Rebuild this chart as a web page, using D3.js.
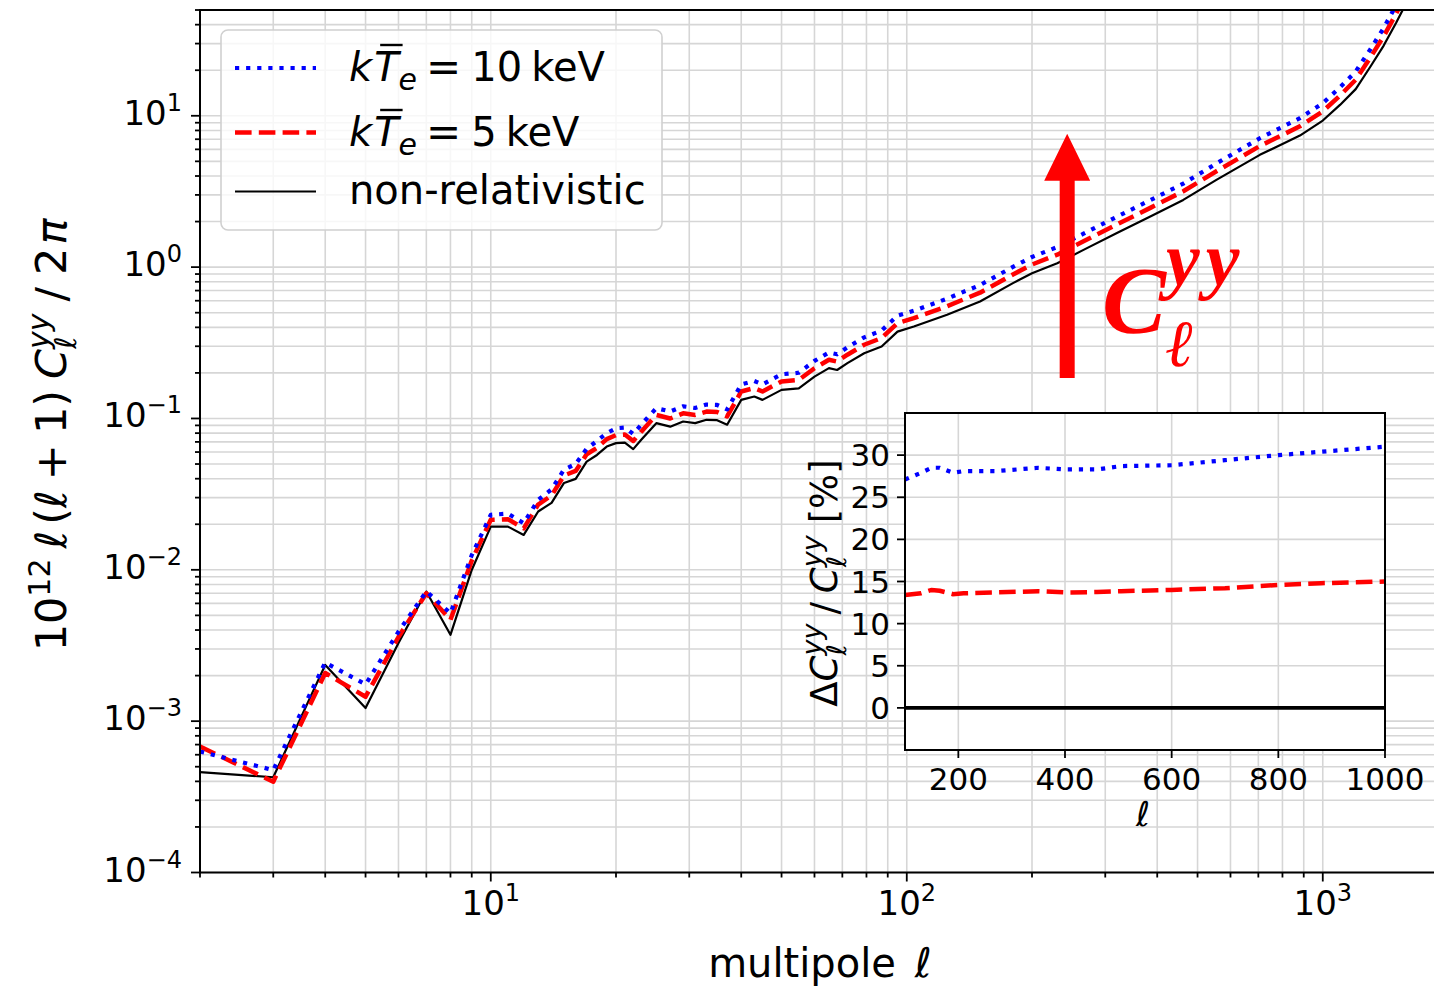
<!DOCTYPE html>
<html><head><meta charset="utf-8">
<script src="https://cdn.jsdelivr.net/npm/d3@7"></script>
<style>body{margin:0;background:#fff} svg{display:block}</style>
</head><body><svg id="c" width="1434" height="990"></svg>
<script>
// ---------------- data ----------------
const ells = [2,3,4,5,6,7,8,9,10,11,12,13,14,15,16,17,18,19,20,21,22,23,25,27,29,31,33,35,37,40,43,45,50,55,60,65,68,72,79,87,95,104,125,150,180,200,230,266,320,385,462,555,706,800,881,1000,1100,1200,1300,1400,1500,1600,1800,2000];
const nonRel = [4.6e-4,4.26e-4,2.35e-3,1.22e-3,3.29e-3,7.18e-3,3.72e-3,9.98e-3,0.0193,0.0193,0.0170,0.0243,0.0277,0.0375,0.0399,0.0519,0.0574,0.0652,0.0687,0.0693,0.0627,0.0723,0.0931,0.0883,0.0955,0.0931,0.098,0.0975,0.0910,0.1327,0.1397,0.1327,0.1545,0.158,0.189,0.215,0.209,0.232,0.270,0.299,0.375,0.405,0.484,0.593,0.784,0.912,1.06,1.30,1.68,2.16,2.78,3.77,5.52,6.5,7.4,9.3,11.8,15.0,21.0,29,41,58,110,200];
const kT10 = [6.3e-4,4.75e-4,2.44e-3,1.75e-3,3.9e-3,7.2e-3,5.16e-3,0.0125,0.0231,0.0235,0.0203,0.029,0.034,0.046,0.050,0.063,0.071,0.080,0.0862,0.0870,0.0790,0.0910,0.1170,0.1112,0.1203,0.1173,0.1235,0.1228,0.1147,0.1680,0.1770,0.1680,0.1960,0.2005,0.2400,0.2730,0.2655,0.2950,0.3435,0.3810,0.4780,0.5150,0.6190,0.7610,1.003,1.167,1.357,1.664,2.152,2.771,3.564,4.840,7.110,8.45,9.65,12.1,15.4,19.6,27.4,37.9,53.6,75.9,144,262];
const kT5 = [6.8e-4,3.98e-4,2.08e-3,1.45e-3,3.6e-3,7.0e-3,4.67e-3,0.0115,0.0214,0.0216,0.0188,0.027,0.031,0.042,0.045,0.058,0.064,0.073,0.0776,0.0783,0.0710,0.0818,0.1055,0.1000,0.1082,0.1055,0.1110,0.1104,0.1031,0.1508,0.1588,0.1508,0.1756,0.1796,0.2148,0.2443,0.2376,0.2638,0.3070,0.3402,0.4268,0.4600,0.5520,0.6780,0.8940,1.040,1.209,1.482,1.915,2.463,3.170,4.300,6.310,7.47,8.52,10.7,13.6,17.3,24.2,33.4,47.2,66.8,127,230];

const insetEll = [100,130,150,165,190,210,270,350,400,460,505,600,700,800,880,1000];
const insetKT10 = [27.1,27.9,28.5,28.5,27.9,28.1,28.1,28.5,28.3,28.3,28.7,28.8,29.4,30.0,30.4,31.0];
const insetKT5 = [13.4,13.6,14.0,13.9,13.5,13.6,13.7,13.85,13.7,13.75,13.85,14.0,14.2,14.6,14.8,15.0];
const insetNonRel = [0,0,0,0,0,0,0,0,0,0,0,0,0,0,0,0];

const xDomain = [2, 2000];
const yDomain = [1e-4, 50];
const xMajorTicks = [10, 100, 1000];
const xMajorExp = ["1", "2", "3"];
const yMajorTicks = [1e-4, 1e-3, 1e-2, 1e-1, 1, 10];
const yMajorExp = ["\u22124", "\u22123", "\u22122", "\u22121", "0", "1"];
const insetXDomain = [100, 1000];
const insetYDomain = [-5, 35];
const insetXTicks = [200, 400, 600, 800, 1000];
const insetYTicks = [0, 5, 10, 15, 20, 25, 30];
const arrowEll = 243, arrowFrom = 0.185, arrowTo = 7.6;

// ---------------- setup ----------------
const svg = d3.select('#c');
const FF = 'DejaVu Sans';
const M = {left:200, right:1448, top:10, bottom:872.5};
const x = d3.scaleLog().domain(xDomain).range([M.left, M.right]);
const y = d3.scaleLog().domain(yDomain).range([M.bottom, M.top]);
const isMajor = v => Math.abs(Math.log10(v) - Math.round(Math.log10(v))) < 1e-9;

const styles = {
  kT10: {color:'#0000ff', w:4.2, dash:'4.2,6.9'},
  kT5: {color:'#ff0000', w:4.5, dash:'16.6,7.2'},
  nonrel: {color:'#000000', w:2.2, dash:null}
};

function rich(parent, pieces, base) {
  const g = parent.append('g');
  let cx = 0, prevStart = 0;
  const info = [];
  pieces.forEach(p => {
    if (p.gap !== undefined) { cx += p.gap; return; }
    const startX = p.stack ? prevStart : cx;
    const t = g.append('text')
      .attr('x', startX).attr('y', p.dy || 0)
      .style('font-family', p.ff || base.ff || FF)
      .style('font-size', (p.fs || base.fs) + 'px')
      .style('font-style', p.it ? 'italic' : 'normal')
      .style('font-weight', base.bold ? 'bold' : 'normal')
      .style('letter-spacing', p.ls ? p.ls + 'px' : null)
      .attr('fill', base.fill || '#000')
      .text(p.t);
    const w = t.node().getComputedTextLength();
    info.push({p, startX, w});
    if (p.stack) cx = Math.max(cx, startX + w);
    else { prevStart = startX; cx = startX + w; }
  });
  return {g, width: cx, info};
}

// clip
svg.append('defs').append('clipPath').attr('id','mainclip')
  .append('rect').attr('x',M.left).attr('y',M.top).attr('width',M.right-M.left).attr('height',M.bottom-M.top);

// grid
const grid = svg.append('g');
const xt = x.ticks(), yt = y.ticks();
grid.selectAll('.gx').data(xt).enter().append('line')
  .attr('x1', d=>x(d)).attr('x2', d=>x(d)).attr('y1', M.top).attr('y2', M.bottom)
  .attr('stroke', '#d6d6d6').attr('stroke-width', 1.6);
grid.selectAll('.gy').data(yt).enter().append('line')
  .attr('y1', d=>y(d)).attr('y2', d=>y(d)).attr('x1', M.left).attr('x2', M.right)
  .attr('stroke', '#d6d6d6').attr('stroke-width', 1.6);

// lines
const seriesData = {kT10: kT10, kT5: kT5, nonrel: nonRel};
const lineGen = d3.line().x(d=>x(d[0])).y(d=>y(d[1]));
const lg = svg.append('g').attr('clip-path','url(#mainclip)');
['nonrel','kT5','kT10'].forEach(k => {
  const st = styles[k];
  lg.append('path').datum(ells.map((e,i)=>[e, seriesData[k][i]]))
    .attr('d', lineGen).attr('fill','none')
    .attr('stroke', st.color).attr('stroke-width', st.w)
    .attr('stroke-dasharray', st.dash).attr('stroke-linejoin','round');
});

// spines
svg.append('rect').attr('x',M.left).attr('y',M.top).attr('width',M.right-M.left).attr('height',M.bottom-M.top)
  .attr('fill','none').attr('stroke','#000').attr('stroke-width',2);

// ticks
const tk = svg.append('g').attr('stroke','#000').attr('stroke-width',1.8);
tk.selectAll('.tx').data(xt).enter().append('line')
  .attr('x1', d=>x(d)).attr('x2', d=>x(d)).attr('y1', M.bottom).attr('y2', d=>M.bottom + (isMajor(d)?9:5));
tk.selectAll('.ty').data(yt).enter().append('line')
  .attr('y1', d=>y(d)).attr('y2', d=>y(d)).attr('x1', M.left).attr('x2', d=>M.left - (isMajor(d)?9:5));

// tick labels
xMajorTicks.forEach((v,i) => {
  const r = rich(svg, [{t:'10'}, {t:xMajorExp[i], fs:24, dy:-14}], {fs:34});
  r.g.attr('transform', `translate(${x(v) - r.width/2},${915})`);
});
yMajorTicks.forEach((v,i) => {
  const r = rich(svg, [{t:'10'}, {t:yMajorExp[i], fs:24, dy:-14}], {fs:34});
  r.g.attr('transform', `translate(${182 - r.width},${y(v)+9})`);
});

// axis labels
{
  const r = rich(svg, [{t:'multipole'}, {gap:19}, {t:'\u2113', it:true, fs:41}], {fs:40});
  r.g.attr('transform', `translate(${820 - r.width/2},977)`);
}
{
  const r = rich(svg, [
    {t:'10'}, {t:'12', fs:30, dy:-16}, {gap:10}, {t:'\u2113', it:true}, {gap:6}, {t:'('}, {t:'\u2113', it:true},
    {gap:10}, {t:'+'}, {gap:10}, {t:'1'}, {t:')'}, {gap:11}, {t:'C', it:true}, {t:'\u2113', it:true, fs:30, dy:10},
    {t:'yy', it:true, fs:30, dy:-17, stack:true}, {gap:12}, {t:'/'}, {gap:12}, {t:'2'}, {gap:3}, {t:'\u03c0', it:true}
  ], {fs:43});
  r.g.attr('transform', `translate(66,435) rotate(-90) translate(${-r.width/2},0)`);
}

// legend
const leg = svg.append('g');
leg.append('rect').attr('x',221).attr('y',30).attr('width',441).attr('height',200).attr('rx',7)
  .attr('fill','#fff').attr('fill-opacity',0.8).attr('stroke','#d0d0d0').attr('stroke-width',1.6);
const legRows = [
  {k:'kT10', y:68, base:81, num:'10'},
  {k:'kT5', y:132.5, base:146, num:'5'},
  {k:'nonrel', y:191.5, base:204, num:null}
];
legRows.forEach(rw => {
  const st = styles[rw.k];
  leg.append('line').attr('x1',235).attr('x2',316).attr('y1',rw.y).attr('y2',rw.y)
    .attr('stroke',st.color).attr('stroke-width',st.w).attr('stroke-dasharray',st.dash);
  if (rw.num) {
    const r = rich(leg, [{t:'k', it:true}, {gap:2}, {t:'T', it:true}, {t:'e', it:true, fs:30, dy:9}, {gap:9},
      {t:'=', fs:42}, {gap:10}, {t:rw.num}, {gap:9}, {t:'keV'}], {fs:40});
    r.g.attr('transform', `translate(349,${rw.base})`);
    const tI = r.info[1];
    r.g.append('line').attr('x1', tI.startX + 6).attr('x2', tI.startX + tI.w + 4)
      .attr('y1', -36).attr('y2', -36).attr('stroke','#000').attr('stroke-width',2.4);
  } else {
    const r = rich(leg, [{t:'non-relativistic'}], {fs:40});
    r.g.attr('transform', `translate(349,${rw.base})`);
  }
});

// big arrow
{
  const ax = x(arrowEll), yb = y(arrowFrom), ytp = y(arrowTo);
  const sw = 7.5, hw = 23, hl = 47;
  const p = d3.path();
  p.moveTo(ax - sw, yb); p.lineTo(ax - sw, ytp + hl); p.lineTo(ax - hw, ytp + hl); p.lineTo(ax, ytp);
  p.lineTo(ax + hw, ytp + hl); p.lineTo(ax + sw, ytp + hl); p.lineTo(ax + sw, yb); p.closePath();
  svg.append('path').attr('d', p.toString()).attr('fill', '#ff0000');
  const r = rich(svg, [{t:'C', fs:96, it:true}, {t:'\u2113', fs:66, dy:33, it:true},
    {t:'yy', fs:76, dy:-48, stack:true, it:true, ls:6}],
    {fs:96, ff:'Liberation Serif', fill:'#ff0000', bold:true});
  r.g.attr('transform', 'translate(1102,333)');
}

// ---------------- inset ----------------
const IX = {l:905, r:1385, t:413, b:750};
const ix = d3.scaleLinear().domain(insetXDomain).range([IX.l, IX.r]);
const iy = d3.scaleLinear().domain(insetYDomain).range([IX.b, IX.t]);
const ins = svg.append('g');
ins.append('rect').attr('x',IX.l).attr('y',IX.t).attr('width',IX.r-IX.l).attr('height',IX.b-IX.t).attr('fill','#fff');
ins.selectAll('.igx').data(insetXTicks).enter().append('line')
  .attr('x1',d=>ix(d)).attr('x2',d=>ix(d)).attr('y1',IX.t).attr('y2',IX.b).attr('stroke','#d6d6d6').attr('stroke-width',1.6);
ins.selectAll('.igy').data(insetYTicks).enter().append('line')
  .attr('y1',d=>iy(d)).attr('y2',d=>iy(d)).attr('x1',IX.l).attr('x2',IX.r).attr('stroke','#d6d6d6').attr('stroke-width',1.6);
const iData = {kT10: insetKT10, kT5: insetKT5, nonrel: insetNonRel};
const iLine = d3.line().x(d=>ix(d[0])).y(d=>iy(d[1]));
['nonrel','kT5','kT10'].forEach(k => {
  const st = styles[k];
  ins.append('path').datum(insetEll.map((e,i)=>[e, iData[k][i]]))
    .attr('d', iLine).attr('fill','none').attr('stroke', st.color)
    .attr('stroke-width', k==='nonrel' ? 3.6 : st.w).attr('stroke-dasharray', st.dash);
});
ins.append('rect').attr('x',IX.l).attr('y',IX.t).attr('width',IX.r-IX.l).attr('height',IX.b-IX.t)
  .attr('fill','none').attr('stroke','#000').attr('stroke-width',2);
ins.selectAll('.itx').data(insetXTicks).enter().append('line')
  .attr('x1',d=>ix(d)).attr('x2',d=>ix(d)).attr('y1',IX.b).attr('y2',IX.b+8).attr('stroke','#000').attr('stroke-width',1.8);
ins.selectAll('.ity').data(insetYTicks).enter().append('line')
  .attr('y1',d=>iy(d)).attr('y2',d=>iy(d)).attr('x1',IX.l).attr('x2',IX.l-8).attr('stroke','#000').attr('stroke-width',1.8);
ins.selectAll('.itlx').data(insetXTicks).enter().append('text')
  .attr('x',d=>ix(d)).attr('y',790).attr('text-anchor','middle')
  .style('font-family',FF).style('font-size','31px').text(d=>d);
ins.selectAll('.itly').data(insetYTicks).enter().append('text')
  .attr('x',890).attr('y',d=>iy(d)+11).attr('text-anchor','end')
  .style('font-family',FF).style('font-size','31px').text(d=>d);
{
  const r = rich(ins, [{t:'\u2113', it:true}], {fs:34});
  r.g.attr('transform', `translate(${1143 - r.width/2},826)`);
}
{
  const r = rich(ins, [
    {t:'\u0394'}, {t:'C', it:true}, {t:'\u2113', it:true, fs:27, dy:9}, {t:'yy', it:true, fs:27, dy:-16, stack:true},
    {gap:9}, {t:'/'}, {gap:9}, {t:'C', it:true}, {t:'\u2113', it:true, fs:27, dy:9}, {t:'yy', it:true, fs:27, dy:-16, stack:true},
    {gap:12}, {t:'[%]'}
  ], {fs:37});
  r.g.attr('transform', `translate(837,583) rotate(-90) translate(${-r.width/2},0)`);
}
</script></body></html>
